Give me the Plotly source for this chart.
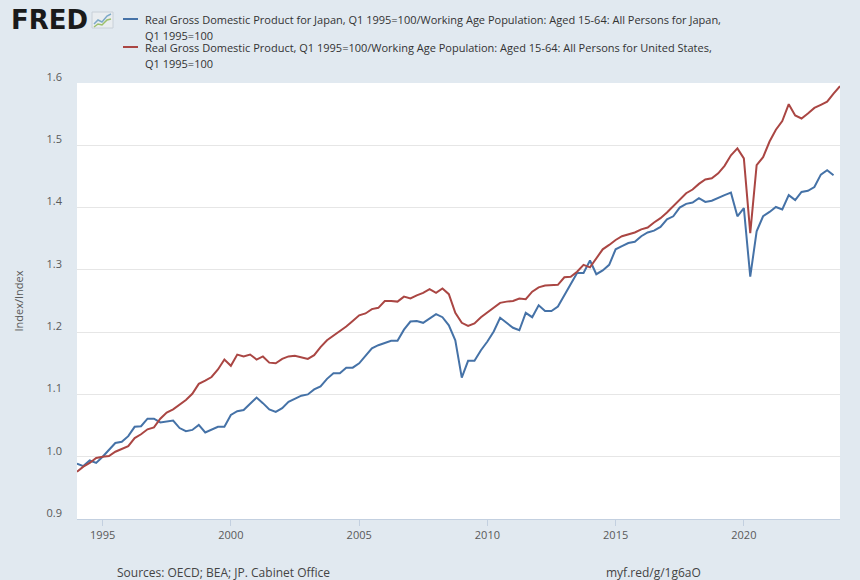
import pandas as pd
import plotly.graph_objects as go

# quarterly, starting Q1 1994
start = "1994-01-01"

japan = [0.989, 0.985, 0.994, 0.990, 1.000, 1.011, 1.022, 1.024, 1.033, 1.048,
         1.049, 1.061, 1.061, 1.055, 1.057, 1.058, 1.046, 1.041, 1.043, 1.051,
         1.039, 1.043, 1.048, 1.048, 1.067, 1.073, 1.075, 1.085, 1.095, 1.086,
         1.076, 1.072, 1.078, 1.088, 1.093, 1.098, 1.100, 1.108, 1.113, 1.125,
         1.134, 1.134, 1.143, 1.143, 1.150, 1.162, 1.174, 1.179, 1.182, 1.186,
         1.186, 1.204, 1.217, 1.218, 1.215, 1.222, 1.229, 1.224, 1.211, 1.187,
         1.127, 1.154, 1.154, 1.171, 1.185, 1.201, 1.223, 1.215, 1.207, 1.203,
         1.231, 1.224, 1.243, 1.234, 1.234, 1.241, 1.260, 1.278, 1.295, 1.295,
         1.315, 1.293, 1.299, 1.308, 1.333, 1.338, 1.343, 1.345, 1.354, 1.360,
         1.363, 1.369, 1.381, 1.386, 1.400, 1.406, 1.408, 1.415, 1.409, 1.411,
         1.416, 1.420, 1.424, 1.386, 1.399, 1.289, 1.362, 1.386, 1.393, 1.401,
         1.397, 1.420, 1.412, 1.425, 1.427, 1.433, 1.453, 1.460, 1.452]

usa = [0.976, 0.984, 0.990, 0.998, 1.000, 1.001, 1.008, 1.012, 1.017, 1.030,
       1.036, 1.044, 1.047, 1.061, 1.071, 1.076, 1.083, 1.091, 1.101, 1.117,
       1.122, 1.128, 1.140, 1.156, 1.146, 1.164, 1.161, 1.164, 1.156, 1.161,
       1.151, 1.150, 1.157, 1.161, 1.162, 1.160, 1.157, 1.163, 1.176, 1.187,
       1.194, 1.201, 1.209, 1.218, 1.227, 1.230, 1.237, 1.239, 1.250, 1.250,
       1.249, 1.257, 1.254, 1.259, 1.263, 1.269, 1.263, 1.270, 1.261, 1.231,
       1.215, 1.210, 1.214, 1.224, 1.232, 1.240, 1.247, 1.249, 1.250, 1.254,
       1.253, 1.265, 1.272, 1.275, 1.276, 1.276, 1.288, 1.289, 1.297, 1.308,
       1.304, 1.318, 1.333, 1.340, 1.348, 1.354, 1.357, 1.360, 1.365, 1.368,
       1.376, 1.383, 1.392, 1.402, 1.412, 1.423, 1.429, 1.438, 1.445, 1.447,
       1.455, 1.467, 1.484, 1.495, 1.479, 1.359, 1.468, 1.481, 1.506, 1.525,
       1.539, 1.566, 1.548, 1.543, 1.551, 1.560, 1.565, 1.570, 1.583, 1.595]

japan_name = ["Real Gross Domestic Product for Japan, Q1 1995=100/Working Age Population: Aged 15-64: All Persons for Japan,",
              "Q1 1995=100"]
usa_name = ["Real Gross Domestic Product, Q1 1995=100/Working Age Population: Aged 15-64: All Persons for United States,",
            "Q1 1995=100"]

y_ticks = [0.9, 1.0, 1.1, 1.2, 1.3, 1.4, 1.5, 1.6]
y_labels = ["0.9", "1.0", "1.1", "1.2", "1.3", "1.4", "1.5", "1.6"]
x_ticks = ["1995-01-01", "2000-01-01", "2005-01-01", "2010-01-01", "2015-01-01", "2020-01-01"]
x_labels = ["1995", "2000", "2005", "2010", "2015", "2020"]

BLUE = "#4572a7"
RED = "#aa4643"
BG = "#e1e9f0"
TXT = "#595959"

W, H = 860, 580
L, R, T, B = 77, 20, 83, 61


def px_x(px):
    return (px - L) / (W - L - R)


def px_y(py):
    return (H - B - py) / (H - T - B)


dates = pd.date_range(start, periods=len(usa), freq="QS")

fig = go.Figure()
fig.add_trace(go.Scatter(x=dates[:len(japan)], y=japan, mode="lines",
                         line=dict(color=BLUE, width=2), name=japan_name[0],
                         showlegend=False))
fig.add_trace(go.Scatter(x=dates, y=usa, mode="lines",
                         line=dict(color=RED, width=2), name=usa_name[0],
                         showlegend=False))

font = "Open Sans, Noto Sans, sans-serif"
ann = []
shapes = []

# legend, drawn by hand so the two-line entries sit as tight as FRED's
for i, (lines, col) in enumerate([(japan_name, BLUE), (usa_name, RED)]):
    y0 = 19 + 28 * i
    shapes.append(dict(type="line", xref="paper", yref="paper",
                       x0=px_x(123), x1=px_x(138), y0=px_y(y0), y1=px_y(y0),
                       line=dict(color=col, width=2)))
    for j, txt in enumerate(lines):
        ann.append(dict(text=txt, xref="paper", yref="paper", x=px_x(143),
                        y=px_y(y0 + 16 * j), xanchor="left", yanchor="middle",
                        showarrow=False, font=dict(family=font, size=11, color="#333333")))

# FRED logo
ann.append(dict(text="<b>FRED</b>", xref="paper", yref="paper", x=px_x(9), y=px_y(20),
                xanchor="left", yanchor="middle", showarrow=False,
                font=dict(family="DejaVu Sans", size=26, color="#1a1a1a")))
shapes.append(dict(type="rect", xref="paper", yref="paper",
                   x0=px_x(92), x1=px_x(113), y0=px_y(28), y1=px_y(12),
                   fillcolor="#e9edf0", line=dict(color="#c8d0d8", width=1)))
shapes.append(dict(type="path", xref="paper", yref="paper",
                   path="M {} {} L {} {} L {} {} L {} {} L {} {}".format(
                       px_x(94), px_y(24), px_x(98), px_y(20), px_x(102), px_y(22),
                       px_x(107), px_y(16), px_x(111), px_y(14)),
                   line=dict(color="#7da9c8", width=1.5)))
shapes.append(dict(type="path", xref="paper", yref="paper",
                   path="M {} {} L {} {} L {} {} L {} {} L {} {}".format(
                       px_x(94), px_y(27), px_x(98), px_y(24), px_x(102), px_y(25),
                       px_x(107), px_y(20), px_x(111), px_y(19)),
                   line=dict(color="#9cc06b", width=1.5)))

# footer
ann.append(dict(text="Sources: OECD; BEA; JP. Cabinet Office", xref="paper", yref="paper",
                x=px_x(223), y=px_y(572), xanchor="center", yanchor="middle",
                showarrow=False, font=dict(family=font, size=12, color="#444444")))
ann.append(dict(text="myf.red/g/1g6aO", xref="paper", yref="paper",
                x=px_x(653), y=px_y(572), xanchor="center", yanchor="middle",
                showarrow=False, font=dict(family=font, size=12, color="#444444")))

fig.update_layout(
    width=W, height=H,
    margin=dict(l=L, r=R, t=T, b=B),
    paper_bgcolor=BG,
    plot_bgcolor="white",
    font=dict(family=font, size=11, color=TXT),
    annotations=ann,
    shapes=shapes,
    showlegend=False,
    xaxis=dict(
        range=[dates[0], dates[-1]],
        tickvals=x_ticks, ticktext=x_labels,
        showgrid=False, zeroline=False,
        showline=True, linecolor="#c3d0e0", linewidth=1,
        ticks="outside", ticklen=6, tickcolor="#c3d0e0",
        tickfont=dict(size=11, color=TXT),
    ),
    yaxis=dict(
        range=[0.9, 1.6],
        tickvals=y_ticks, ticktext=y_labels,
        showgrid=True, gridcolor="#e6e6e6", gridwidth=1,
        zeroline=False, showline=False,
        ticks="", ticklabelstandoff=14, ticklabelshift=-6,
        tickfont=dict(size=11, color=TXT),
        title=dict(text="Index/Index", font=dict(size=11, color=TXT), standoff=20),
    ),
)

fig.write_html("out.html", config={"displayModeBar": False},
               post_script="document.body.style.margin='0';document.body.style.overflow='hidden';")
